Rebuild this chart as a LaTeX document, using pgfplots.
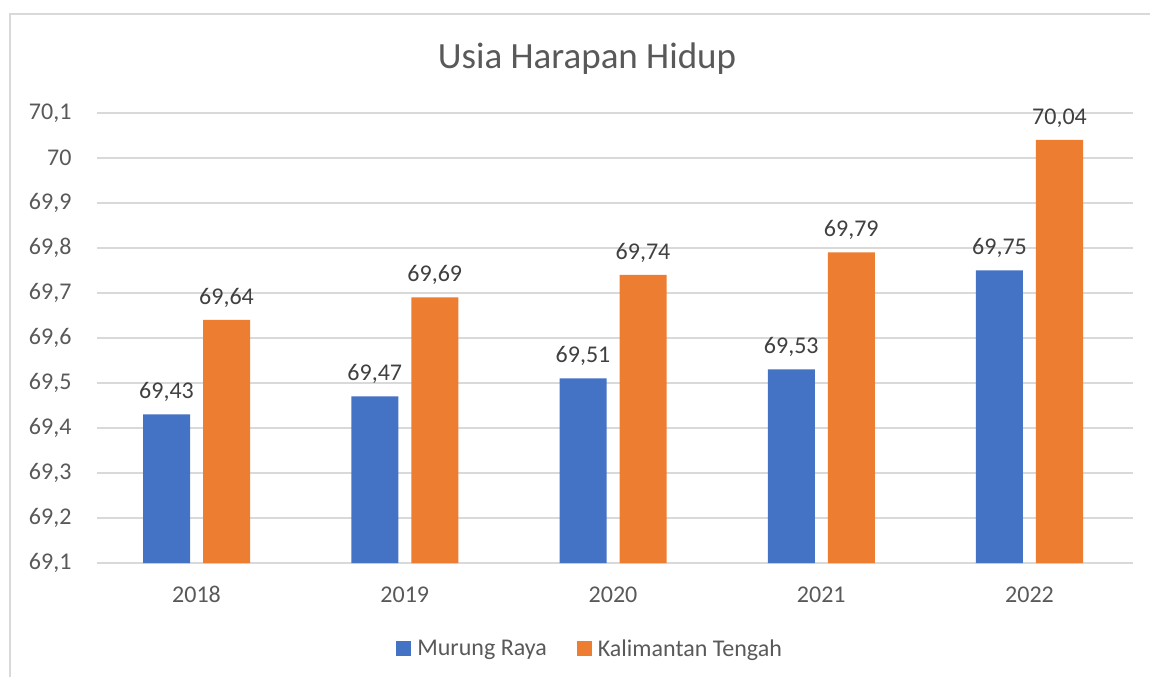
\documentclass[border=0pt]{standalone}
\usepackage{pgfplots}
\pgfplotsset{compat=1.18}
\usepackage{fontspec}
\setmainfont{Carlito}
\definecolor{murung}{HTML}{4472C4}
\definecolor{kalteng}{HTML}{ED7D31}
\definecolor{txt}{HTML}{595959}
\definecolor{lbl}{HTML}{404040}
\definecolor{gridc}{HTML}{D9D9D9}
\begin{document}
\begin{tikzpicture}[x=1pt,y=1pt]
\path[use as bounding box] (0,0) rectangle (1150,677);
\draw[gridc, line width=1.5pt] (10,0) -- (10,663) -- (1150,663);
\node[text=txt, font=\fontsize{37}{42}\selectfont] at (587,618) {Usia Harapan Hidup};
\begin{axis}[
  at={(97pt,114pt)}, anchor=south west,
  scale only axis, width=1036pt, height=450pt,
  ybar=13pt, bar width=47pt,
  xmin=-0.478, xmax=4.497, ymin=69.1, ymax=70.1,
  xtick={0,1,2,3,4}, xticklabels={2018,2019,2020,2021,2022},
  ytick={69.1,69.2,69.3,69.4,69.5,69.6,69.7,69.8,69.9,70.0,70.1},
  ymajorgrids, grid style={gridc, line width=1.2pt},
  axis line style={draw=none}, major tick length=0pt,
  tick label style={text=txt, font=\fontsize{24}{28}\selectfont},
  xticklabel style={yshift=-20pt},
  yticklabel style={xshift=-22pt},
  /pgf/number format/assume math mode=true,
  /pgf/number format/use comma,
  /pgf/number format/1000 sep={},
  nodes near coords,
  every node near coord/.append style={
    /pgf/number format/fixed,
    /pgf/number format/fixed zerofill,
    /pgf/number format/precision=2,
    text=lbl, font=\fontsize{24}{28}\selectfont, yshift=9pt},
  legend style={at={(0.476,-0.19)}, anchor=center, draw=none, fill=none,
    legend columns=2, font=\fontsize{24}{28}\selectfont, text=txt,
    /tikz/every odd column/.append style={column sep=4pt},
    /tikz/every even column/.append style={column sep=28pt}},
  legend image code/.code={\fill[#1,draw=none] (0pt,-7.5pt) rectangle (15pt,7.5pt);},
]
\addplot[fill=murung, draw=none] coordinates {(0,69.43) (1,69.47) (2,69.51) (3,69.53) (4,69.75)};
\addplot[fill=kalteng, draw=none] coordinates {(0,69.64) (1,69.69) (2,69.74) (3,69.79) (4,70.04)};
\legend{Murung Raya, Kalimantan Tengah}
\end{axis}
\end{tikzpicture}
\end{document}
